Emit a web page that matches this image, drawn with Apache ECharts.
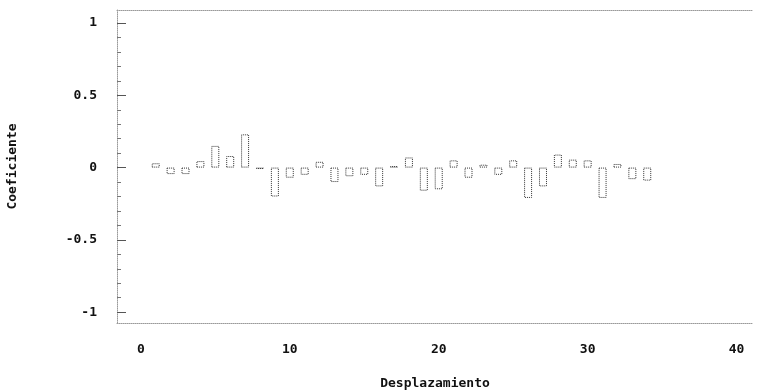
<!DOCTYPE html>
<html>
<head>
<meta charset="utf-8">
<script src="https://cdn.jsdelivr.net/npm/echarts@6/dist/echarts.min.js"></script>
<style>
  html, body { margin: 0; padding: 0; background: #fff; }
  #chart { width: 757px; height: 392px; }
</style>
</head>
<body>
<div id="chart"></div>
<script>
// lags and autocorrelation coefficients
const lags = [1, 2, 3, 4, 5, 6, 7, 8, 9, 10, 11, 12, 13, 14, 15, 16, 17,
  18, 19, 20, 21, 22, 23, 24, 25, 26, 27, 28, 29, 30, 31, 32, 33, 34];
const coefs = [0.03, -0.045, -0.045, 0.045, 0.15, 0.08, 0.23, -0.01, -0.2, -0.07,
  -0.05, 0.04, -0.1, -0.06, -0.05, -0.13, 0.01, 0.07, -0.16, -0.15,
  0.05, -0.07, 0.02, -0.05, 0.05, -0.21, -0.13, 0.09, 0.055, 0.05,
  -0.21, 0.025, -0.08, -0.09];
const xTicks = [0, 10, 20, 30, 40];
const yTicks = [-1, -0.5, 0, 0.5, 1];
const yMinorTicks = [-1, -0.9, -0.8, -0.7, -0.6, -0.5, -0.4, -0.3, -0.2, -0.1, 0,
  0.1, 0.2, 0.3, 0.4, 0.5, 0.6, 0.7, 0.8, 0.9, 1];

const font = 'DejaVu Sans Mono';
const lineCol = '#9a9a9a';

const chart = echarts.init(document.getElementById('chart'));

const labelStyle = {
  color: '#111',
  fontFamily: font,
  fontWeight: 'bold',
  fontSize: 13,
};

chart.setOption({
  animation: false,
  backgroundColor: '#fff',
  grid: { left: 117, right: 4, top: 10, bottom: 69, outerBoundsMode: 'none' },
  xAxis: [
    {
      type: 'value',
      min: -1.6,
      max: 41.1,
      name: 'Desplazamiento',
      nameLocation: 'middle',
      nameGap: 54,
      nameTextStyle: labelStyle,
      axisLine: { show: true, onZero: false, lineStyle: { color: lineCol, type: 'dotted', width: 1 } },
      axisTick: { show: false },
      splitLine: { show: false },
      axisLabel: {
        customValues: xTicks,
        margin: 20,
        ...labelStyle,
      },
    },
    {
      type: 'value',
      position: 'top',
      min: -1.6,
      max: 41.1,
      axisLine: { show: true, onZero: false, lineStyle: { color: lineCol, type: 'dotted', width: 1 } },
      axisTick: { show: false },
      axisLabel: { show: false },
      splitLine: { show: false },
    },
  ],
  yAxis: [
    {
      type: 'value',
      min: -1.075,
      max: 1.09,
      name: 'Coeficiente',
      nameLocation: 'middle',
      nameRotate: 90,
      nameGap: 98,
      nameTextStyle: labelStyle,
      axisLine: { show: true, onZero: false, lineStyle: { color: lineCol, type: 'dotted', width: 1 } },
      axisTick: {
        show: true,
        inside: true,
        length: 4,
        customValues: yMinorTicks,
        lineStyle: { color: '#777' },
      },
      splitLine: { show: false },
      axisLabel: {
        customValues: yTicks,
        margin: 20,
        formatter: (v) => String(Math.round(v * 10) / 10),
        ...labelStyle,
      },
    },
    {
      type: 'value',
      position: 'left',
      min: -1.075,
      max: 1.09,
      axisLine: { show: false, onZero: false },
      axisTick: {
        show: true,
        inside: true,
        length: 9,
        customValues: yTicks,
        lineStyle: { color: '#555' },
      },
      axisLabel: { show: false },
      splitLine: { show: false },
    },
  ],
  series: [
    {
      type: 'bar',
      xAxisIndex: 0,
      yAxisIndex: 0,
      barWidth: 8,
      data: lags.map((l, i) => [l, coefs[i]]),
      itemStyle: {
        color: 'rgba(0,0,0,0)',
        borderColor: '#333',
        borderWidth: 1,
        borderType: 'dotted',
      },
    },
  ],
});
</script>
</body>
</html>
